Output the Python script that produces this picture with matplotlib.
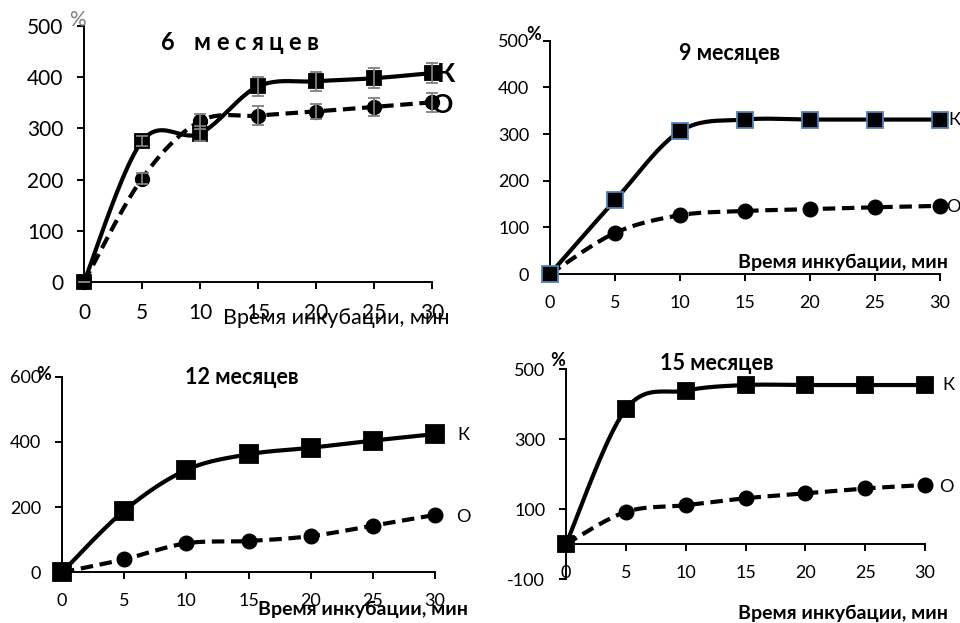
import numpy as np
import matplotlib.pyplot as plt

plt.rcParams['font.family'] = ['Lato', 'Open Sans', 'DejaVu Sans']
plt.rcParams['axes.unicode_minus'] = False

minutes = [0, 5, 10, 15, 20, 25, 30]

k_6m = [0, 275, 290, 382, 392, 398, 408]
o_6m = [0, 202, 314, 325, 333, 342, 351]
k_6m_err = [0, 10, 15, 18, 18, 20, 20]
o_6m_err = [0, 10, 15, 18, 15, 18, 18]

k_9m = [0, 158, 306, 331, 331, 331, 331]
o_9m = [0, 88, 126, 135, 139, 143, 146]

k_12m = [0, 189, 314, 362, 382, 404, 424]
o_12m = [0, 40, 89, 96, 111, 143, 176]

k_15m = [0, 386, 439, 455, 455, 455, 455]
o_15m = [0, 92, 111, 131, 145, 159, 169]

xlabel = 'Время инкубации, мин'

W, H = 960, 623
fig = plt.figure(figsize=(W / 100, H / 100), dpi=100)


def px(x, y):
    return x / W, 1 - y / H


def smooth(x, y, n=24):
    # Excel-like smoothed line (Bezier through the points)
    p = np.column_stack([x, y]).astype(float)
    e = np.vstack([p[:1], p, p[-1:]])
    t = np.linspace(0, 1, n)[:, None]
    out = [p[:1]]
    for i in range(len(p) - 1):
        a, b = p[i], p[i + 1]
        c1 = a + (b - e[i]) / 6
        c2 = b - (e[i + 3] - a) / 6
        seg = (1 - t) ** 3 * a + 3 * (1 - t) ** 2 * t * c1 + 3 * (1 - t) * t ** 2 * c2 + t ** 3 * b
        out.append(seg[1:])
    s = np.vstack(out)
    return s[:, 0], s[:, 1]


def style(ax, ylim, yticks, fs):
    ax.set_xlim(0, 30)
    ax.set_ylim(*ylim)
    ax.set_xticks(minutes)
    ax.set_yticks(yticks)
    for s in ['top', 'right']:
        ax.spines[s].set_visible(False)
    for s in ['left', 'bottom']:
        ax.spines[s].set_linewidth(1.4)
    ax.tick_params(direction='out', length=5, width=1.4, labelsize=fs)
    ax.tick_params(axis='y', pad=10)
    ax.tick_params(axis='x', pad=10)
    ax.patch.set_alpha(0)


def series(ax, k, o, sq, circ, sq_edge='black'):
    xs, ys = smooth(minutes, o)
    ax.plot(xs, ys, color='black', lw=3, ls=(0, (3, 1.6)), clip_on=False, zorder=3)
    ax.plot(minutes, o, 'o', color='black', ms=circ, clip_on=False, zorder=4)
    xs, ys = smooth(minutes, k)
    ax.plot(xs, ys, color='black', lw=3, clip_on=False, zorder=5)
    ax.plot(minutes, k, 's', mfc='black', mec=sq_edge, mew=1.3, ms=sq,
            clip_on=False, zorder=6)


def spaced_text(x, y, s, gap, **kw):
    r = fig.canvas.get_renderer()
    widths = []
    for ch in s:
        t = fig.text(0, 0, ch if ch != ' ' else 'n', **kw)
        w = t.get_window_extent(r).width
        t.remove()
        widths.append(w if ch != ' ' else w * 0.55)
    x0 = x - (sum(widths) + gap * (len(s) - 1)) / 2
    for ch, w in zip(s, widths):
        fig.text(*px(x0, y), ch, ha='left', va='center', **kw)
        x0 += w + gap


# 6 months
ax1 = fig.add_axes([*px(84, 282), 348 / W, 256 / H])
style(ax1, (0, 500), [0, 100, 200, 300, 400, 500], 15)
series(ax1, k_6m, o_6m, 10.5, 10)
ax1.errorbar(minutes, k_6m, yerr=k_6m_err, fmt='none', ecolor='#808080',
             elinewidth=1.3, capsize=4, capthick=1.3, zorder=7, clip_on=False)
ax1.errorbar(minutes, o_6m, yerr=o_6m_err, fmt='none', ecolor='#808080',
             elinewidth=1.3, capsize=4, capthick=1.3, zorder=7, clip_on=False)
spaced_text(240, 43, '6 месяцев', 5.5, fontsize=17, fontweight='bold')
fig.text(*px(77, 20), '%', fontsize=15, color='#808080', ha='center', va='center')
fig.text(*px(446, 74), 'К', fontsize=19, fontweight='bold', ha='center', va='center')
fig.text(*px(443, 105), 'О', fontsize=19, fontweight='bold', ha='center', va='center')
fig.text(*px(336, 318), xlabel, fontsize=15.5, ha='center', va='center')

# 9 months
ax2 = fig.add_axes([*px(550, 274), 390 / W, 233.3 / H])
style(ax2, (0, 500), [0, 100, 200, 300, 400, 500], 13)
series(ax2, k_9m, o_9m, 11, 10.5, sq_edge='#4f81bd')
fig.text(*px(730, 53), '9 месяцев', fontsize=15.5, fontweight='bold', ha='center', va='center')
fig.text(*px(534, 34), '%', fontsize=13, fontweight='bold', ha='center', va='center')
fig.text(*px(954, 120), 'К', fontsize=13, ha='center', va='center')
fig.text(*px(953, 207), 'О', fontsize=13, ha='center', va='center')
fig.text(*px(843, 262), xlabel, fontsize=14, fontweight='bold', ha='center', va='center')

# 12 months
ax3 = fig.add_axes([*px(62, 572.3), 373 / W, 195.6 / H])
style(ax3, (0, 600), [0, 200, 400, 600], 13)
series(ax3, k_12m, o_12m, 13, 10.5)
fig.text(*px(242, 377), '12 месяцев', fontsize=15.5, fontweight='bold', ha='center', va='center')
fig.text(*px(44, 374), '%', fontsize=13, fontweight='bold', ha='center', va='center')
fig.text(*px(463, 435), 'К', fontsize=13, ha='center', va='center')
fig.text(*px(463, 517), 'О', fontsize=13, ha='center', va='center')
fig.text(*px(363, 609), xlabel, fontsize=14, fontweight='bold', ha='center', va='center')

# 15 months
ax4 = fig.add_axes([*px(566, 579), 359 / W, 209.7 / H])
style(ax4, (-100, 500), [-100, 100, 300, 500], 13)
ax4.spines['bottom'].set_position(('data', 0))
series(ax4, k_15m, o_15m, 11, 10.5)
fig.text(*px(717, 363), '15 месяцев', fontsize=15.5, fontweight='bold', ha='center', va='center')
fig.text(*px(558, 360), '%', fontsize=13, fontweight='bold', ha='center', va='center')
fig.text(*px(948, 385), 'К', fontsize=13, ha='center', va='center')
fig.text(*px(946, 487), 'О', fontsize=13, ha='center', va='center')
fig.text(*px(843, 613), xlabel, fontsize=14, fontweight='bold', ha='center', va='center')

fig.savefig('out.png', dpi=100)
